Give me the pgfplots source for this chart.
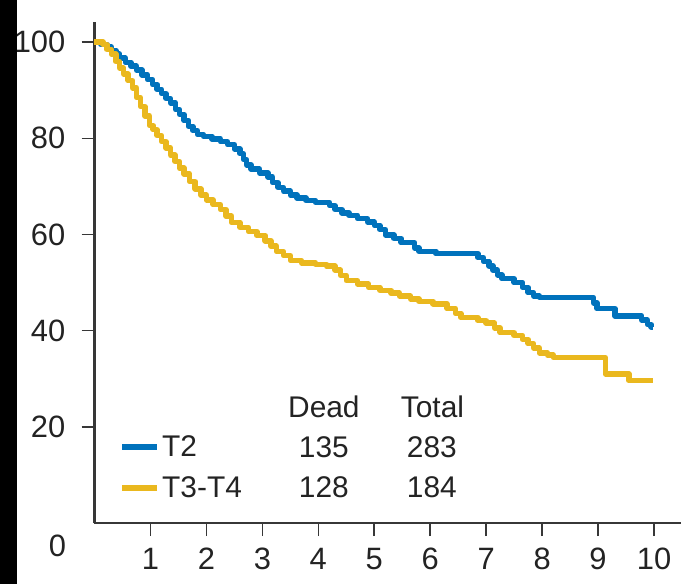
\documentclass[border=0pt]{standalone}
\usepackage{pgfplots}
\pgfplotsset{compat=1.18}
\usepackage{fontspec}
\setmainfont{Liberation Sans}
\definecolor{tblue}{RGB}{0,114,188}
\definecolor{tyellow}{RGB}{234,184,30}
\definecolor{axgray}{RGB}{55,55,55}
\definecolor{txt}{RGB}{35,35,35}
\begin{document}
\begin{tikzpicture}
\useasboundingbox (-94.5bp,-61bp) rectangle (586.5bp,523bp);
\begin{axis}[
  at={(0,0)}, anchor=south west,
  scale only axis, width=587.5bp, height=501bp,
  xmin=0, xmax=10.5, ymin=0, ymax=104.2,
  axis x line*=bottom, axis y line*=left,
  xtick={1,2,3,4,5,6,7,8,9,10},
  ytick={20,40,60,80,100},
  extra x ticks={0},
  extra x tick style={major tick length=0pt, xticklabel style={xshift=-37bp}},
  tick align=outside,
  major tick length=13bp,
  tick style={line width=1.6bp, color=axgray},
  axis line style={line width=2.8bp, color=axgray},
  /pgf/number format/assume math mode=true,
  ticklabel style={font=\fontsize{31}{36}\selectfont, text=txt},
  xticklabel style={inner sep=0pt, yshift=-12bp},
  yticklabel style={inner sep=0pt, xshift=-16bp},
  clip=false,
  legend style={draw=none, fill=none, inner sep=0pt, outer sep=0pt,
    at={(axis cs:0.45,18.6)}, anchor=north west,
    font=\fontsize{30}{36}\selectfont, text=txt,
    nodes={inner sep=2bp}, row sep=15bp},
  legend cell align=left,
  legend image code/.code={\draw[#1, line width=5.5bp] (0bp,0bp) -- (35bp,0bp);},
]
\addplot[const plot, tblue, line width=5.5bp, line join=round] coordinates {
(0,100) (0.12,99.5) (0.22,99) (0.3,98.3) (0.38,97.5) (0.45,96.7) (0.55,95.8)
(0.65,95) (0.75,94.2) (0.85,93.2) (0.95,92.2) (1.04,91.2) (1.12,90.2) (1.2,89.3)
(1.28,88.3) (1.36,87.4) (1.45,86) (1.52,85) (1.6,83.7) (1.68,82.5) (1.76,81.6)
(1.84,80.8) (1.95,80.4) (2.1,79.9) (2.25,79.3) (2.38,78.7) (2.5,77.8) (2.6,76.8)
(2.66,75.6) (2.72,74.5) (2.8,73.6) (2.95,72.8) (3.1,72) (3.18,70.8) (3.28,69.8)
(3.38,69) (3.5,68.2) (3.62,67.6) (3.78,67.1) (3.95,66.7) (4.2,66) (4.3,65.2)
(4.42,64.5) (4.55,64) (4.7,63.3) (4.88,62.6) (5.0,61.9) (5.1,61) (5.2,59.9)
(5.35,59.2) (5.48,58.3) (5.72,57.2) (5.8,56.5) (6.1,56) (6.85,55.2) (6.95,54.4)
(7.05,53.5) (7.12,52.6) (7.2,51.6) (7.28,50.8) (7.5,50) (7.65,49) (7.75,47.9)
(7.85,47.2) (7.95,46.9) (8.92,45.8) (8.98,44.6) (9.3,43.1) (9.78,42.2)
(9.88,41.3) (9.95,40.8) (9.99,40.8)
};
\addlegendentry{T2}
\addplot[const plot, tyellow, line width=5.5bp, line join=round] coordinates {
(0,100) (0.15,99.5) (0.22,98.5) (0.3,97.5) (0.38,96) (0.45,94.6) (0.52,93.4)
(0.6,92) (0.68,90.5) (0.75,88.5) (0.82,86.6) (0.9,84.7) (0.98,82.7) (1.05,81.8)
(1.12,80.6) (1.2,79.3) (1.28,78) (1.36,76.5) (1.44,75.2) (1.52,73.8) (1.6,72.6)
(1.7,71) (1.8,69.5) (1.9,68.2) (2.0,67.2) (2.12,66.2) (2.25,65.2) (2.35,63.8)
(2.45,62.5) (2.6,61.5) (2.75,60.6) (2.9,59.8) (3.05,58.7) (3.15,57.6) (3.25,56.5)
(3.38,55.6) (3.5,54.6) (3.7,54.1) (3.95,53.8) (4.15,53.4) (4.3,52.6) (4.4,51.5)
(4.5,50.4) (4.7,49.7) (4.9,49) (5.1,48.4) (5.3,47.8) (5.45,47.2) (5.65,46.6)
(5.8,46.1) (6.05,45.6) (6.3,44.6) (6.45,43.6) (6.55,42.7) (6.85,42.1) (7.0,41.6)
(7.15,40.6) (7.25,39.6) (7.5,39) (7.65,38.2) (7.75,37.3) (7.85,36.4) (7.95,35.4)
(8.1,34.9) (8.2,34.4) (9.13,31.0) (9.55,29.6) (9.99,29.6)
};
\addlegendentry{T3-T4}
\begin{scope}[every node/.style={font=\fontsize{30}{36}\selectfont, text=txt, inner sep=0pt, anchor=base}]
\node at (axis cs:4.10,22.04) {Dead};
\node at (axis cs:6.04,22.04) {Total};
\node at (axis cs:4.10,13.72) {135};
\node at (axis cs:6.03,13.72) {283};
\node at (axis cs:4.10,5.20) {128};
\node at (axis cs:6.03,5.20) {184};
\end{scope}
\end{axis}
\fill[black] (-94.5bp,-61bp) rectangle (-77.5bp,523bp);
\end{tikzpicture}
\end{document}
